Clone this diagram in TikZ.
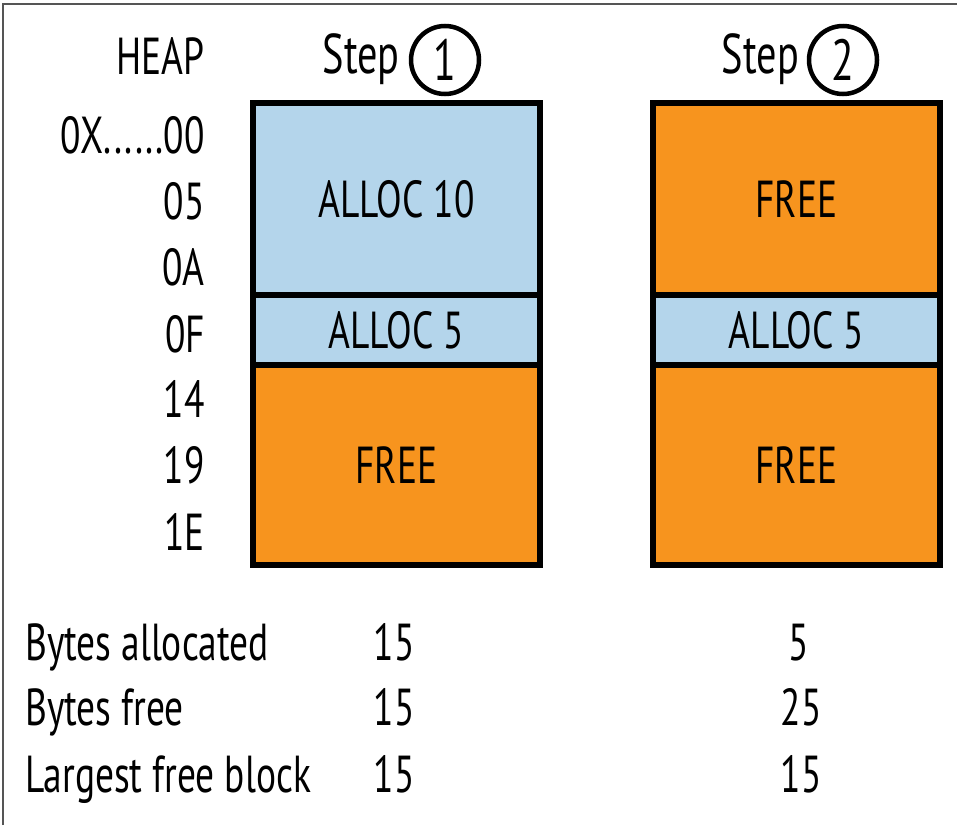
\documentclass[tikz,border=0pt]{standalone}
\usepackage{fontspec}
\setmainfont[FakeStretch=0.72]{PT Sans}
\definecolor{allocblue}{HTML}{B4D5EB}
\definecolor{freeorange}{HTML}{F7941E}
\definecolor{framegray}{HTML}{555555}
\begin{document}
\begin{tikzpicture}[x=1pt,y=-1pt,
  seg/.style={draw=black,line width=6pt,minimum width=#1,inner sep=0pt,font=\fontsize{52}{56}\selectfont},
  lbl/.style={anchor=base east,inner sep=0pt,font=\fontsize{52}{56}\selectfont},
  row/.style={anchor=base west,inner sep=0pt,font=\fontsize{52}{56}\selectfont},
  num/.style={anchor=base,inner sep=0pt,font=\fontsize{52}{56}\selectfont},
  head/.style={anchor=base,inner sep=0pt,font=\fontsize{56}{60}\selectfont},
  stepcirc/.style={circle,draw=black,line width=4.5pt,minimum size=68pt,inner sep=0pt,font=\fontsize{58}{62}\selectfont}]
\useasboundingbox (0,0) rectangle (957,825);
\fill[white] (0,0) rectangle (957,825);
\draw[framegray,line width=2pt] (3,825) -- (3,4) -- (957,4);
% labels
\node[lbl] (heap) at (205,74) {HEAP};
\node[lbl] (a00) at (205,153) {0X......00};
\node[lbl] (a05) at (205,219) {05};
\node[lbl] (a0a) at (205,285) {0A};
\node[lbl] (a0f) at (205,352) {0F};
\node[lbl] (a14) at (205,417) {14};
\node[lbl] (a19) at (205,483) {19};
\node[lbl] (a1e) at (205,550) {1E};
% step headings
\node[head,anchor=base east] (s1) at (400,73) {Step};
\node[stepcirc] (c1) at (445,60) {1};
\node[head,anchor=base east] (s2) at (799,73) {Step};
\node[stepcirc] (c2) at (843,60) {2};
% step 1 column
\node[seg=287pt,fill=allocblue,minimum height=192pt] (b1a) at (396.5,199) {ALLOC 10};
\node[seg=287pt,fill=allocblue,minimum height=70pt] (b1b) at (396.5,330) {ALLOC 5};
\node[seg=287pt,fill=freeorange,minimum height=200pt] (b1c) at (396.5,465) {FREE};
% step 2 column
\node[seg=287pt,fill=freeorange,minimum height=192pt] (b2a) at (796.5,199) {FREE};
\node[seg=287pt,fill=allocblue,minimum height=70pt] (b2b) at (796.5,330) {ALLOC 5};
\node[seg=287pt,fill=freeorange,minimum height=200pt] (b2c) at (796.5,465) {FREE};
% stats
\node[row] (r1) at (25,660) {Bytes allocated};
\node[row] (r2) at (25,725) {Bytes free};
\node[row] (r3) at (25,792) {Largest free block};
\node[num] (v11) at (394,660) {15};
\node[num] (v12) at (394,725) {15};
\node[num] (v13) at (394,792) {15};
\node[num] (v21) at (799,660) {5};
\node[num] (v22) at (801,725) {25};
\node[num] (v23) at (801,792) {15};
\end{tikzpicture}
\end{document}
